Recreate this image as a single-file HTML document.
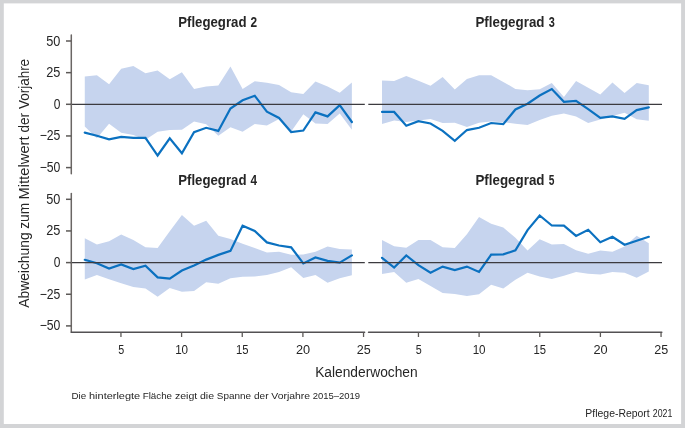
<!DOCTYPE html>
<html><head><meta charset="utf-8"><style>
html,body{margin:0;padding:0;}
body{width:685px;height:428px;background:#d3d4d6;overflow:hidden;position:relative;font-family:"Liberation Sans",sans-serif;}
svg{position:absolute;left:0;top:0;}
svg.t{will-change:transform;}
</style></head><body>
<svg width="685" height="428" viewBox="0 0 685 428" xmlns="http://www.w3.org/2000/svg">
<rect x="3.8" y="3.4" width="677.3" height="420.6" fill="#fff"/>
<g>
<polygon points="84.78,76.50 96.92,75.20 109.06,84.30 121.20,68.70 133.34,66.00 145.48,73.20 157.62,70.40 169.76,79.20 181.90,72.20 194.04,88.90 206.18,86.60 218.32,85.40 230.46,66.40 242.60,88.90 254.74,81.20 266.88,82.70 279.02,85.10 291.16,92.20 303.30,93.90 315.44,81.40 327.58,86.50 339.72,92.70 351.86,82.40 351.86,129.80 339.72,113.50 327.58,124.00 315.44,123.50 303.30,114.20 291.16,131.50 279.02,118.90 266.88,125.40 254.74,124.10 242.60,131.70 230.46,127.20 218.32,135.80 206.18,124.20 194.04,121.60 181.90,129.80 169.76,130.10 157.62,131.70 145.48,139.80 133.34,134.90 121.20,132.70 109.06,123.70 96.92,138.30 84.78,126.60" fill="#c6d4ee"/>
<polygon points="382.02,80.40 394.15,81.10 406.27,76.00 418.40,80.80 430.53,85.80 442.65,77.10 454.78,89.50 466.91,78.90 479.03,75.30 491.16,75.30 503.29,81.90 515.42,88.90 527.54,90.20 539.67,89.20 551.80,83.00 563.92,97.00 576.05,81.10 588.18,87.70 600.30,94.40 612.43,82.60 624.56,92.90 636.69,83.00 648.81,85.20 648.81,120.80 636.69,119.30 624.56,112.70 612.43,116.10 600.30,119.60 588.18,123.00 576.05,116.40 563.92,113.50 551.80,115.70 539.67,120.00 527.54,125.10 515.42,123.70 503.29,122.20 491.16,121.50 479.03,122.70 466.91,126.90 454.78,122.80 442.65,123.10 430.53,118.90 418.40,120.60 406.27,122.10 394.15,120.60 382.02,124.10" fill="#c6d4ee"/>
<polygon points="84.78,238.30 96.92,244.40 109.06,241.20 121.20,234.50 133.34,240.00 145.48,247.30 157.62,248.10 169.76,231.30 181.90,214.90 194.04,225.70 206.18,220.80 218.32,235.70 230.46,238.90 242.60,243.70 254.74,248.10 266.88,252.50 279.02,251.80 291.16,254.70 303.30,254.40 315.44,251.80 327.58,246.40 339.72,248.90 351.86,249.60 351.86,275.20 339.72,278.30 327.58,282.80 315.44,274.90 303.30,278.00 291.16,267.20 279.02,272.00 266.88,274.90 254.74,276.40 242.60,276.80 230.46,278.30 218.32,283.70 206.18,282.20 194.04,291.00 181.90,291.70 169.76,288.10 157.62,296.80 145.48,288.50 133.34,287.00 121.20,283.20 109.06,279.30 96.92,274.90 84.78,279.50" fill="#c6d4ee"/>
<polygon points="382.02,240.00 394.15,246.30 406.27,247.80 418.40,240.00 430.53,240.00 442.65,247.30 454.78,248.10 466.91,234.20 479.03,217.00 491.16,223.70 503.29,227.60 515.42,237.80 527.54,250.50 539.67,239.30 551.80,244.40 563.92,244.10 576.05,250.30 588.18,253.70 600.30,250.40 612.43,251.80 624.56,246.60 636.69,235.70 648.81,243.20 648.81,271.60 636.69,277.80 624.56,272.70 612.43,272.00 600.30,274.60 588.18,273.80 576.05,272.00 563.92,275.70 551.80,278.90 539.67,276.40 527.54,272.70 515.42,279.70 503.29,288.50 491.16,284.70 479.03,294.30 466.91,296.10 454.78,293.90 442.65,292.90 430.53,285.90 418.40,278.90 406.27,282.70 394.15,272.00 382.02,273.90" fill="#c6d4ee"/>
<polyline points="84.78,132.60 96.92,135.70 109.06,139.30 121.20,136.80 133.34,137.85 145.48,137.85 157.62,155.50 169.76,138.30 181.90,153.20 194.04,132.15 206.18,127.80 218.32,130.90 230.46,108.50 242.60,100.30 254.74,95.70 266.88,111.70 279.02,118.00 291.16,132.00 303.30,130.50 315.44,112.40 327.58,116.40 339.72,105.10 351.86,122.00" fill="none" stroke="#0b71c0" stroke-width="2.2" stroke-linejoin="miter" stroke-miterlimit="3" stroke-linecap="round"/>
<polyline points="382.02,111.90 394.15,111.90 406.27,125.70 418.40,121.10 430.53,123.50 442.65,130.80 454.78,140.75 466.91,130.05 479.03,127.80 491.16,123.00 503.29,124.10 515.42,109.50 527.54,103.70 539.67,95.50 551.80,89.10 563.92,101.80 576.05,100.80 588.18,109.10 600.30,117.80 612.43,116.40 624.56,118.90 636.69,110.10 648.81,107.40" fill="none" stroke="#0b71c0" stroke-width="2.2" stroke-linejoin="miter" stroke-miterlimit="3" stroke-linecap="round"/>
<polyline points="84.78,259.80 96.92,263.20 109.06,268.60 121.20,264.50 133.34,269.10 145.48,265.75 157.62,277.40 169.76,278.60 181.90,270.50 194.04,265.40 206.18,259.60 218.32,254.90 230.46,250.90 242.60,225.70 254.74,231.00 266.88,242.40 279.02,245.50 291.16,247.30 303.30,263.40 315.44,257.50 327.58,260.90 339.72,262.60 351.86,255.40" fill="none" stroke="#0b71c0" stroke-width="2.2" stroke-linejoin="miter" stroke-miterlimit="3" stroke-linecap="round"/>
<polyline points="382.02,257.80 394.15,267.60 406.27,255.50 418.40,265.10 430.53,272.70 442.65,266.60 454.78,270.10 466.91,266.60 479.03,272.00 491.16,254.70 503.29,254.40 515.42,250.40 527.54,230.10 539.67,215.50 551.80,225.50 563.92,225.70 576.05,235.90 588.18,229.80 600.30,242.20 612.43,236.80 624.56,244.70 636.69,240.80 648.81,236.80" fill="none" stroke="#0b71c0" stroke-width="2.2" stroke-linejoin="miter" stroke-miterlimit="3" stroke-linecap="round"/>
<line x1="70.4" y1="104.45" x2="364.8" y2="104.45" stroke="#3c3b3f" stroke-width="1.2"/>
<line x1="368.3" y1="104.45" x2="662" y2="104.45" stroke="#3c3b3f" stroke-width="1.2"/>
<line x1="70.4" y1="262.6" x2="364.8" y2="262.6" stroke="#3c3b3f" stroke-width="1.2"/>
<line x1="368.3" y1="262.6" x2="662" y2="262.6" stroke="#3c3b3f" stroke-width="1.2"/>
<path d="M71.3 34.9 V173.7" stroke="#6a6664" stroke-width="1.5" fill="none" stroke-linecap="round"/>
<path d="M71.3 193.4 V332.2" stroke="#6a6664" stroke-width="1.5" fill="none" stroke-linecap="round"/>
<path d="M71.3 332.2 H364.6" stroke="#535153" stroke-width="1.5" fill="none" stroke-linecap="round"/>
<path d="M368.5 332.2 H661.8" stroke="#535153" stroke-width="1.5" fill="none" stroke-linecap="round"/>
<line x1="66" y1="41.00" x2="71.2" y2="41.00" stroke="#5c5957" stroke-width="1.5"/>
<line x1="66" y1="72.65" x2="71.2" y2="72.65" stroke="#5c5957" stroke-width="1.5"/>
<line x1="66" y1="104.30" x2="71.2" y2="104.30" stroke="#5c5957" stroke-width="1.5"/>
<line x1="66" y1="135.95" x2="71.2" y2="135.95" stroke="#5c5957" stroke-width="1.5"/>
<line x1="66" y1="167.60" x2="71.2" y2="167.60" stroke="#5c5957" stroke-width="1.5"/>
<line x1="66" y1="199.30" x2="71.2" y2="199.30" stroke="#5c5957" stroke-width="1.5"/>
<line x1="66" y1="230.95" x2="71.2" y2="230.95" stroke="#5c5957" stroke-width="1.5"/>
<line x1="66" y1="262.60" x2="71.2" y2="262.60" stroke="#5c5957" stroke-width="1.5"/>
<line x1="66" y1="294.25" x2="71.2" y2="294.25" stroke="#5c5957" stroke-width="1.5"/>
<line x1="66" y1="325.90" x2="71.2" y2="325.90" stroke="#5c5957" stroke-width="1.5"/>
<line x1="120.95" y1="332.2" x2="120.95" y2="337" stroke="#5c5957" stroke-width="1.3"/>
<line x1="181.60" y1="332.2" x2="181.60" y2="337" stroke="#5c5957" stroke-width="1.3"/>
<line x1="242.25" y1="332.2" x2="242.25" y2="337" stroke="#5c5957" stroke-width="1.3"/>
<line x1="302.90" y1="332.2" x2="302.90" y2="337" stroke="#5c5957" stroke-width="1.3"/>
<line x1="363.55" y1="332.2" x2="363.55" y2="337" stroke="#5c5957" stroke-width="1.3"/>
<line x1="418.45" y1="332.2" x2="418.45" y2="337" stroke="#5c5957" stroke-width="1.3"/>
<line x1="479.10" y1="332.2" x2="479.10" y2="337" stroke="#5c5957" stroke-width="1.3"/>
<line x1="539.75" y1="332.2" x2="539.75" y2="337" stroke="#5c5957" stroke-width="1.3"/>
<line x1="600.40" y1="332.2" x2="600.40" y2="337" stroke="#5c5957" stroke-width="1.3"/>
<line x1="661.05" y1="332.2" x2="661.05" y2="337" stroke="#5c5957" stroke-width="1.3"/>
</g>
</svg>
<svg class="t" width="685" height="428" viewBox="0 0 685 428" xmlns="http://www.w3.org/2000/svg">
<g fill="#262626" font-family="Liberation Sans, sans-serif">
<text x="46.29" y="45.50" font-size="14.0" textLength="14.15" lengthAdjust="spacingAndGlyphs">50</text>
<text x="46.26" y="77.15" font-size="14.0" textLength="14.18" lengthAdjust="spacingAndGlyphs">25</text>
<text x="53.72" y="108.80" font-size="14.0" textLength="6.67" lengthAdjust="spacingAndGlyphs">0</text>
<text x="39.69" y="140.45" font-size="14.0" textLength="20.72" lengthAdjust="spacingAndGlyphs">−25</text>
<text x="39.69" y="172.10" font-size="14.0" textLength="20.72" lengthAdjust="spacingAndGlyphs">−50</text>
<text x="46.29" y="203.80" font-size="14.0" textLength="14.15" lengthAdjust="spacingAndGlyphs">50</text>
<text x="46.26" y="235.45" font-size="14.0" textLength="14.18" lengthAdjust="spacingAndGlyphs">25</text>
<text x="53.72" y="267.10" font-size="14.0" textLength="6.67" lengthAdjust="spacingAndGlyphs">0</text>
<text x="39.69" y="298.75" font-size="14.0" textLength="20.72" lengthAdjust="spacingAndGlyphs">−25</text>
<text x="39.69" y="330.40" font-size="14.0" textLength="20.72" lengthAdjust="spacingAndGlyphs">−50</text>
<text x="118.17" y="354.0" font-size="13.4" textLength="5.97" lengthAdjust="spacingAndGlyphs">5</text>
<text x="175.13" y="354.0" font-size="13.4" textLength="12.97" lengthAdjust="spacingAndGlyphs">10</text>
<text x="236.01" y="354.0" font-size="13.4" textLength="12.52" lengthAdjust="spacingAndGlyphs">15</text>
<text x="295.96" y="354.0" font-size="13.4" textLength="14.18" lengthAdjust="spacingAndGlyphs">20</text>
<text x="356.72" y="354.0" font-size="13.4" textLength="13.96" lengthAdjust="spacingAndGlyphs">25</text>
<text x="415.67" y="354.0" font-size="13.4" textLength="5.97" lengthAdjust="spacingAndGlyphs">5</text>
<text x="472.63" y="354.0" font-size="13.4" textLength="12.97" lengthAdjust="spacingAndGlyphs">10</text>
<text x="533.51" y="354.0" font-size="13.4" textLength="12.52" lengthAdjust="spacingAndGlyphs">15</text>
<text x="593.46" y="354.0" font-size="13.4" textLength="14.18" lengthAdjust="spacingAndGlyphs">20</text>
<text x="654.22" y="354.0" font-size="13.4" textLength="13.96" lengthAdjust="spacingAndGlyphs">25</text>
<text x="178.24" y="26.9" font-size="13.75" textLength="68.26" lengthAdjust="spacingAndGlyphs" font-weight="bold">Pflegegrad</text>
<text x="250.58" y="26.9" font-size="13.75" textLength="6.60" lengthAdjust="spacingAndGlyphs" font-weight="bold">2</text>
<text x="475.43" y="26.9" font-size="13.75" textLength="69.08" lengthAdjust="spacingAndGlyphs" font-weight="bold">Pflegegrad</text>
<text x="548.73" y="26.9" font-size="13.75" textLength="6.07" lengthAdjust="spacingAndGlyphs" font-weight="bold">3</text>
<text x="178.24" y="185.3" font-size="13.75" textLength="68.26" lengthAdjust="spacingAndGlyphs" font-weight="bold">Pflegegrad</text>
<text x="250.42" y="185.3" font-size="13.75" textLength="6.55" lengthAdjust="spacingAndGlyphs" font-weight="bold">4</text>
<text x="475.43" y="185.3" font-size="13.75" textLength="69.08" lengthAdjust="spacingAndGlyphs" font-weight="bold">Pflegegrad</text>
<text x="548.69" y="185.3" font-size="13.75" textLength="5.67" lengthAdjust="spacingAndGlyphs" font-weight="bold">5</text>
<text x="315.15" y="377.4" font-size="13.8" textLength="102.55" lengthAdjust="spacingAndGlyphs">Kalenderwochen</text>
<text x="-307.82" y="0" font-size="14.5" textLength="75.47" lengthAdjust="spacingAndGlyphs" transform="translate(28.9 0) rotate(-90)">Abweichung</text>
<text x="-228.85" y="0" font-size="14.5" textLength="25.95" lengthAdjust="spacingAndGlyphs" transform="translate(28.9 0) rotate(-90)">zum</text>
<text x="-199.58" y="0" font-size="14.5" textLength="63.21" lengthAdjust="spacingAndGlyphs" transform="translate(28.9 0) rotate(-90)">Mittelwert</text>
<text x="-132.54" y="0" font-size="14.5" textLength="19.58" lengthAdjust="spacingAndGlyphs" transform="translate(28.9 0) rotate(-90)">der</text>
<text x="-108.97" y="0" font-size="14.5" textLength="50.07" lengthAdjust="spacingAndGlyphs" transform="translate(28.9 0) rotate(-90)">Vorjahre</text>
<text x="71.51" y="398.8" font-size="9.8" textLength="14.73" lengthAdjust="spacingAndGlyphs">Die</text>
<text x="89.03" y="398.8" font-size="9.8" textLength="51.16" lengthAdjust="spacingAndGlyphs">hinterlegte</text>
<text x="142.72" y="398.8" font-size="9.8" textLength="29.34" lengthAdjust="spacingAndGlyphs">Fläche</text>
<text x="174.98" y="398.8" font-size="9.8" textLength="22.30" lengthAdjust="spacingAndGlyphs">zeigt</text>
<text x="199.98" y="398.8" font-size="9.8" textLength="14.09" lengthAdjust="spacingAndGlyphs">die</text>
<text x="216.85" y="398.8" font-size="9.8" textLength="34.22" lengthAdjust="spacingAndGlyphs">Spanne</text>
<text x="254.00" y="398.8" font-size="9.8" textLength="14.51" lengthAdjust="spacingAndGlyphs">der</text>
<text x="271.35" y="398.8" font-size="9.8" textLength="38.72" lengthAdjust="spacingAndGlyphs">Vorjahre</text>
<text x="312.73" y="398.8" font-size="9.8" textLength="47.40" lengthAdjust="spacingAndGlyphs">2015–2019</text>
<text x="585.37" y="416.6" font-size="10.0" textLength="64.34" lengthAdjust="spacingAndGlyphs">Pflege-Report</text>
<text x="652.81" y="416.6" font-size="10.0" textLength="19.52" lengthAdjust="spacingAndGlyphs">2021</text>
</g>
</svg>
</body></html>
